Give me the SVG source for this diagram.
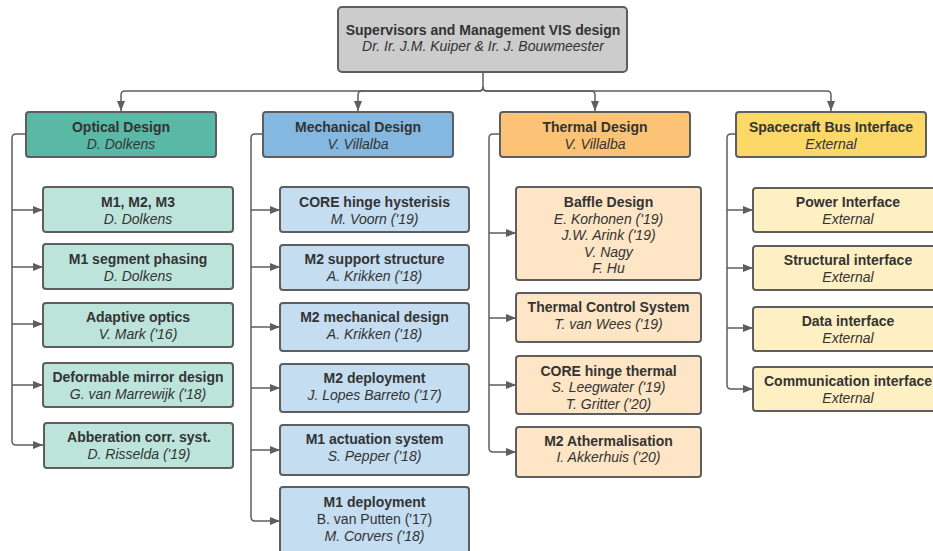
<svg xmlns="http://www.w3.org/2000/svg" width="933" height="551" viewBox="0 0 933 551">
<defs>
<marker id="arr" markerUnits="userSpaceOnUse" markerWidth="11" markerHeight="9" refX="10" refY="4" orient="auto">
<path d="M0,0 L10,4 L0,8 z" fill="#5e5e5e"/>
</marker>
<style>
.box{stroke:#5e5e5e;stroke-width:2}
.top{fill:#cccccc}
.oh{fill:#5ab9a6}.oc{fill:#bde4db}
.mh{fill:#84b8e0}.mc{fill:#c4ddf1}
.th{fill:#fcc275}.tc{fill:#fde5c5}
.sh{fill:#fcd869}.sc{fill:#fff0c4}
text{font-family:"Liberation Sans",Arial,sans-serif;font-size:14px;fill:#333333;text-anchor:middle}
.b{font-weight:bold}
.i{font-style:italic}
.c path{fill:none;stroke:#5e5e5e;stroke-width:1.5}
</style>
</defs>
<rect width="933" height="551" fill="#ffffff"/>

<g class="c" id="connectors">
<path d="M483,72 V87 Q483,91 479,91 H125 Q121,91 121,95 V111" marker-end="url(#arr)"/>
<path d="M483,87 Q483,91 479,91 H362 Q358,91 358,95 V111" marker-end="url(#arr)"/>
<path d="M483,87 Q483,91 487,91 H591 Q595,91 595,95 V111" marker-end="url(#arr)"/>
<path d="M483,87 Q483,91 487,91 H827 Q831,91 831,95 V111" marker-end="url(#arr)"/>

<path d="M26,134 H16 Q12,134 12,138 V441 Q12,445 16,445 H43" marker-end="url(#arr)"/>
<path d="M12,210 H43" marker-end="url(#arr)"/>
<path d="M12,267 H43" marker-end="url(#arr)"/>
<path d="M12,324 H43" marker-end="url(#arr)"/>
<path d="M12,385 H43" marker-end="url(#arr)"/>

<path d="M263,134 H255 Q251,134 251,138 V517 Q251,521 255,521 H280" marker-end="url(#arr)"/>
<path d="M251,210 H280" marker-end="url(#arr)"/>
<path d="M251,267 H280" marker-end="url(#arr)"/>
<path d="M251,327 H280" marker-end="url(#arr)"/>
<path d="M251,388 H280" marker-end="url(#arr)"/>
<path d="M251,450 H280" marker-end="url(#arr)"/>

<path d="M500,134 H493 Q489,134 489,138 V448 Q489,452 493,452 H516" marker-end="url(#arr)"/>
<path d="M489,233 H516" marker-end="url(#arr)"/>
<path d="M489,318 H516" marker-end="url(#arr)"/>
<path d="M489,385 H516" marker-end="url(#arr)"/>

<path d="M736,134 H731 Q727,134 727,138 V385 Q727,389 731,389 H753" marker-end="url(#arr)"/>
<path d="M727,210 H753" marker-end="url(#arr)"/>
<path d="M727,268 H753" marker-end="url(#arr)"/>
<path d="M727,328 H753" marker-end="url(#arr)"/>
</g>

<g id="supervisors">
<rect class="box top" x="338" y="7" width="289" height="65" rx="4"/>
<text class="b" x="483" y="34.5">Supervisors and Management VIS design</text>
<text class="i" x="483" y="51">Dr. Ir. J.M. Kuiper &amp; Ir. J. Bouwmeester</text>
</g>

<g id="optical">
<rect class="box oh" x="26" y="112" width="190" height="45" rx="3"/>
<text class="b" x="121" y="131.5">Optical Design</text>
<text class="i" x="121" y="148.5">D. Dolkens</text>
</g>
<g id="mechanical">
<rect class="box mh" x="263" y="112" width="190" height="45" rx="3"/>
<text class="b" x="358" y="131.5">Mechanical Design</text>
<text class="i" x="358" y="148.5">V. Villalba</text>
</g>
<g id="thermal">
<rect class="box th" x="500" y="112" width="190" height="45" rx="3"/>
<text class="b" x="595" y="131.5">Thermal Design</text>
<text class="i" x="595" y="148.5">V. Villalba</text>
</g>
<g id="spacecraft">
<rect class="box sh" x="736" y="112" width="190" height="45" rx="3"/>
<text class="b" x="831" y="131.5">Spacecraft Bus Interface</text>
<text class="i" x="831" y="148.5">External</text>
</g>

<g id="o1">
<rect class="box oc" x="43" y="187" width="190" height="45" rx="3"/>
<text class="b" x="138" y="206.5">M1, M2, M3</text>
<text class="i" x="138" y="224">D. Dolkens</text>
</g>
<g id="o2">
<rect class="box oc" x="43" y="244" width="190" height="45" rx="3"/>
<text class="b" x="138" y="264">M1 segment phasing</text>
<text class="i" x="138" y="281">D. Dolkens</text>
</g>
<g id="o3">
<rect class="box oc" x="43" y="303" width="190" height="44" rx="3"/>
<text class="b" x="138" y="321.5">Adaptive optics</text>
<text class="i" x="138" y="338.5">V. Mark ('16)</text>
</g>
<g id="o4">
<rect class="box oc" x="43" y="363" width="190" height="44" rx="3"/>
<text class="b" x="138" y="382">Deformable mirror design</text>
<text class="i" x="138" y="399">G. van Marrewijk ('18)</text>
</g>
<g id="o5">
<rect class="box oc" x="44" y="423" width="189" height="45" rx="3"/>
<text class="b" x="139" y="442">Abberation corr. syst.</text>
<text class="i" x="139" y="459">D. Risselda ('19)</text>
</g>

<g id="m1">
<rect class="box mc" x="280" y="187" width="189" height="45" rx="3"/>
<text class="b" x="374.5" y="206.5">CORE hinge hysterisis</text>
<text class="i" x="374.5" y="224">M. Voorn ('19)</text>
</g>
<g id="m2">
<rect class="box mc" x="280" y="245" width="189" height="45" rx="3"/>
<text class="b" x="374.5" y="264">M2 support structure</text>
<text class="i" x="374.5" y="281">A. Krikken ('18)</text>
</g>
<g id="m3">
<rect class="box mc" x="280" y="303" width="189" height="48" rx="3"/>
<text class="b" x="374.5" y="321.5">M2 mechanical design</text>
<text class="i" x="374.5" y="338.5">A. Krikken ('18)</text>
</g>
<g id="m4">
<rect class="box mc" x="280" y="364" width="189" height="48" rx="3"/>
<text class="b" x="374.5" y="383">M2 deployment</text>
<text class="i" x="374.5" y="400">J. Lopes Barreto ('17)</text>
</g>
<g id="m5">
<rect class="box mc" x="280" y="425" width="189" height="50" rx="3"/>
<text class="b" x="374.5" y="444">M1 actuation system</text>
<text class="i" x="374.5" y="460.5">S. Pepper ('18)</text>
</g>
<g id="m6">
<rect class="box mc" x="280" y="487" width="189" height="75" rx="3"/>
<text class="b" x="374.5" y="507">M1 deployment</text>
<text x="374.5" y="524">B. van Putten ('17)</text>
<text class="i" x="374.5" y="541">M. Corvers ('18)</text>
</g>

<g id="t1">
<rect class="box tc" x="516" y="187" width="185" height="93" rx="3"/>
<text class="b" x="608.5" y="207">Baffle Design</text>
<text class="i" x="608.5" y="223.5">E. Korhonen ('19)</text>
<text class="i" x="608.5" y="240">J.W. Arink ('19)</text>
<text class="i" x="608.5" y="256.5">V. Nagy</text>
<text class="i" x="608.5" y="273">F. Hu</text>
</g>
<g id="t2">
<rect class="box tc" x="516" y="293" width="185" height="49" rx="3"/>
<text class="b" x="608.5" y="312">Thermal Control System</text>
<text class="i" x="608.5" y="329">T. van Wees ('19)</text>
</g>
<g id="t3">
<rect class="box tc" x="516" y="356" width="185" height="58" rx="3"/>
<text class="b" x="608.5" y="375.5">CORE hinge thermal</text>
<text class="i" x="608.5" y="392">S. Leegwater ('19)</text>
<text class="i" x="608.5" y="409">T. Gritter ('20)</text>
</g>
<g id="t4">
<rect class="box tc" x="516" y="427" width="185" height="50" rx="3"/>
<text class="b" x="608.5" y="445.5">M2 Athermalisation</text>
<text class="i" x="608.5" y="462">I. Akkerhuis ('20)</text>
</g>

<g id="s1">
<rect class="box sc" x="753" y="188" width="190" height="44" rx="3"/>
<text class="b" x="848" y="206.5">Power Interface</text>
<text class="i" x="848" y="224">External</text>
</g>
<g id="s2">
<rect class="box sc" x="753" y="246" width="190" height="44" rx="3"/>
<text class="b" x="848" y="265">Structural interface</text>
<text class="i" x="848" y="281.5">External</text>
</g>
<g id="s3">
<rect class="box sc" x="753" y="307" width="190" height="44" rx="3"/>
<text class="b" x="848" y="326">Data interface</text>
<text class="i" x="848" y="342.5">External</text>
</g>
<g id="s4">
<rect class="box sc" x="753" y="367" width="190" height="44" rx="3"/>
<text class="b" x="848" y="386">Communication interface</text>
<text class="i" x="848" y="402.5">External</text>
</g>
</svg>
